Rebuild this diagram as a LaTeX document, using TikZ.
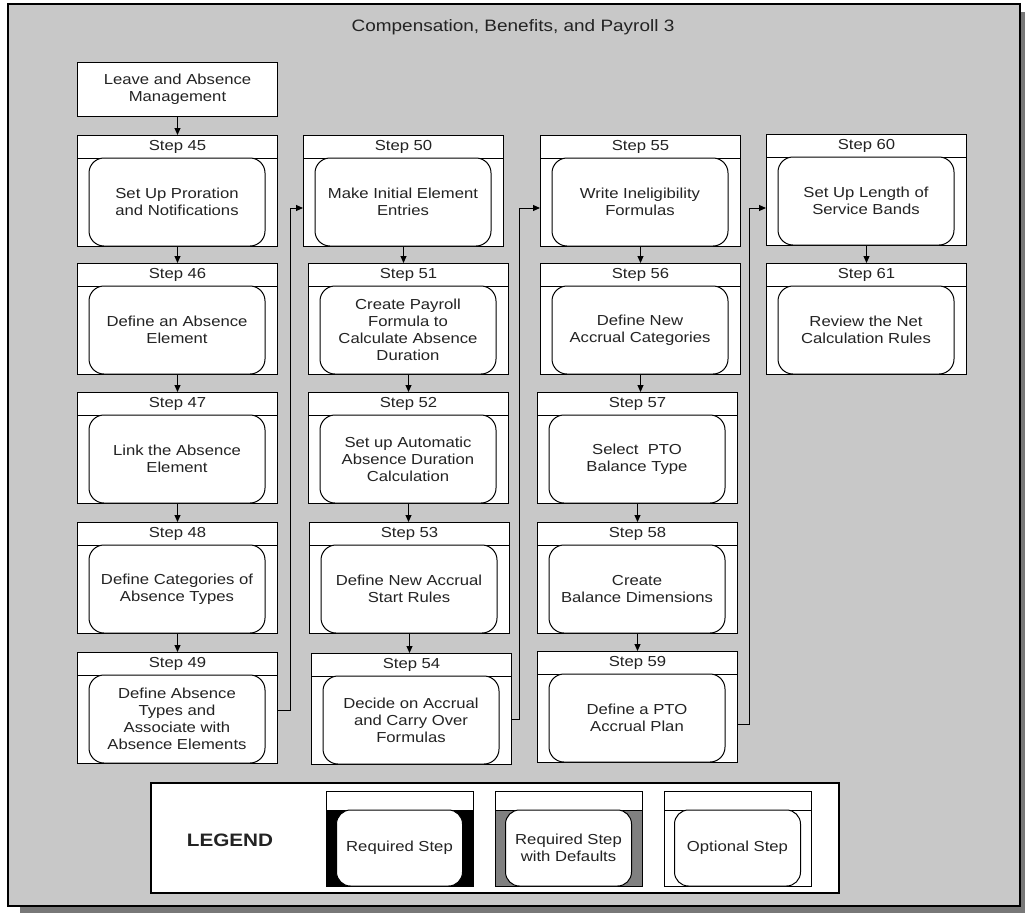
\documentclass[tikz,border=0pt]{standalone}
\usepackage{fontspec}
\setmainfont{Liberation Sans}[FakeStretch=1.15]
\usetikzlibrary{arrows.meta,calc}
\definecolor{framegray}{RGB}{200,200,200}
\definecolor{shadowgray}{RGB}{120,120,120}
\definecolor{defgray}{RGB}{128,128,128}
\definecolor{ink}{RGB}{35,35,35}
\tikzset{
  base/.style={draw=black, line width=1pt, inner sep=0pt, text=ink},
  outerbox/.style={base, fill=white, minimum width=200pt, minimum height=111pt, anchor=north west},
  headbox/.style={base, fill=white, minimum width=200pt, minimum height=23pt, anchor=north west, font=\fontsize{14.5}{17}\selectfont},
  bodybox/.style={base, fill=white, rounded corners=15pt, minimum width=176pt, minimum height=88pt, inner sep=2pt, align=center, font=\fontsize{14.5}{17}\selectfont},
  arr/.style={draw=black, line width=1pt, -{Triangle[length=7pt,width=6pt]}},
}
\newcommand\stepnode[5]{%
  \node[outerbox] (#1) at (#2,#3) {};
  \node[headbox] (#1h) at (#2,#3) {Step #4};
  \node[bodybox] (#1b) at (#2+100,#3+67) {#5};
}
\newcommand\legstep[4]{%
  \node[base, fill=#3, minimum width=147pt, minimum height=95pt, anchor=north west] (#1) at (#2,791) {};
  \node[base, fill=white, minimum width=147pt, minimum height=19pt, anchor=north west] (#1h) at (#2,791) {};
  \node[base, fill=white, rounded corners=14pt, minimum width=126pt, minimum height=76pt, inner sep=2pt, align=center, font=\fontsize{14.5}{17}\selectfont] (#1b) at (#2+73.5,848) {#4};
}
\begin{document}
\begin{tikzpicture}[x=1pt,y=-1pt]
\useasboundingbox (0,0) rectangle (1025,913);
\fill[shadowgray] (20,12) rectangle (1025,913);
\draw[fill=framegray, line width=1.2pt] (8,4) rectangle (1020,906);
\node[font=\fontsize{16.5}{20}\selectfont, text=ink] (title) at (513,27) {Compensation, Benefits, and Payroll 3};

\node[base, fill=white, minimum width=200pt, minimum height=54pt, anchor=north west, align=center, font=\fontsize{14.5}{17}\selectfont] (lam) at (77,62) {Leave and Absence\\Management};

\stepnode{s45}{77}{135}{45}{Set Up Proration\\and Notifications}
\stepnode{s46}{77}{263}{46}{Define an Absence\\Element}
\stepnode{s47}{77}{392}{47}{Link the Absence\\Element}
\stepnode{s48}{77}{522}{48}{Define Categories of\\Absence Types}
\stepnode{s49}{77}{652}{49}{Define Absence\\Types and\\Associate with\\Absence Elements}

\stepnode{s50}{303}{135}{50}{Make Initial Element\\Entries}
\stepnode{s51}{308}{263}{51}{Create Payroll\\Formula to\\Calculate Absence\\Duration}
\stepnode{s52}{308}{392}{52}{Set up Automatic\\Absence Duration\\Calculation}
\stepnode{s53}{309}{522}{53}{Define New Accrual\\Start Rules}
\stepnode{s54}{311}{653}{54}{Decide on Accrual\\and Carry Over\\Formulas}

\stepnode{s55}{540}{135}{55}{Write Ineligibility\\Formulas}
\stepnode{s56}{540}{263}{56}{Define New\\Accrual Categories}
\stepnode{s57}{537}{392}{57}{Select\ \ PTO\\Balance Type}
\stepnode{s58}{537}{522}{58}{Create\\Balance Dimensions}
\stepnode{s59}{537}{651}{59}{Define a PTO\\Accrual Plan}

\stepnode{s60}{766}{134}{60}{Set Up Length of\\Service Bands}
\stepnode{s61}{766}{263}{61}{Review the Net\\Calculation Rules}

\draw[arr] (lam.south) -- (lam.south |- s45.north);
\draw[arr] (s45.south) -- (s45.south |- s46.north);
\draw[arr] (s46.south) -- (s46.south |- s47.north);
\draw[arr] (s47.south) -- (s47.south |- s48.north);
\draw[arr] (s48.south) -- (s48.south |- s49.north);
\draw[arr] (s50.south) -- (s50.south |- s51.north);
\draw[arr] (s51.south) -- (s51.south |- s52.north);
\draw[arr] (s52.south) -- (s52.south |- s53.north);
\draw[arr] (s53.south) -- (s53.south |- s54.north);
\draw[arr] (s55.south) -- (s55.south |- s56.north);
\draw[arr] (s56.south) -- (s56.south |- s57.north);
\draw[arr] (s57.south) -- (s57.south |- s58.north);
\draw[arr] (s58.south) -- (s58.south |- s59.north);
\draw[arr] (s60.south) -- (s60.south |- s61.north);

\draw[arr] ($(s49.north east)+(0,58)$) -- ++(12,0) |- ($(s50.north west)+(0,73)$);
\draw[arr] ($(s54.north east)+(0,66)$) -- ++(7,0) |- ($(s55.north west)+(0,73)$);
\draw[arr] ($(s59.north east)+(0,73)$) -- ++(11,0) |- ($(s60.north west)+(0,74)$);

\node[base, fill=white, line width=1.5pt, minimum width=688pt, minimum height=110pt, anchor=north west] (legend) at (150,782) {};
\node[font=\bfseries\fontsize{18}{20}\selectfont, text=ink] (legtitle) at (230,840) {LEGEND};
\legstep{lreq}{326}{black}{Required Step}
\legstep{ldef}{495}{defgray}{Required Step\\with Defaults}
\legstep{lopt}{664}{white}{Optional Step}
\end{tikzpicture}
\end{document}
